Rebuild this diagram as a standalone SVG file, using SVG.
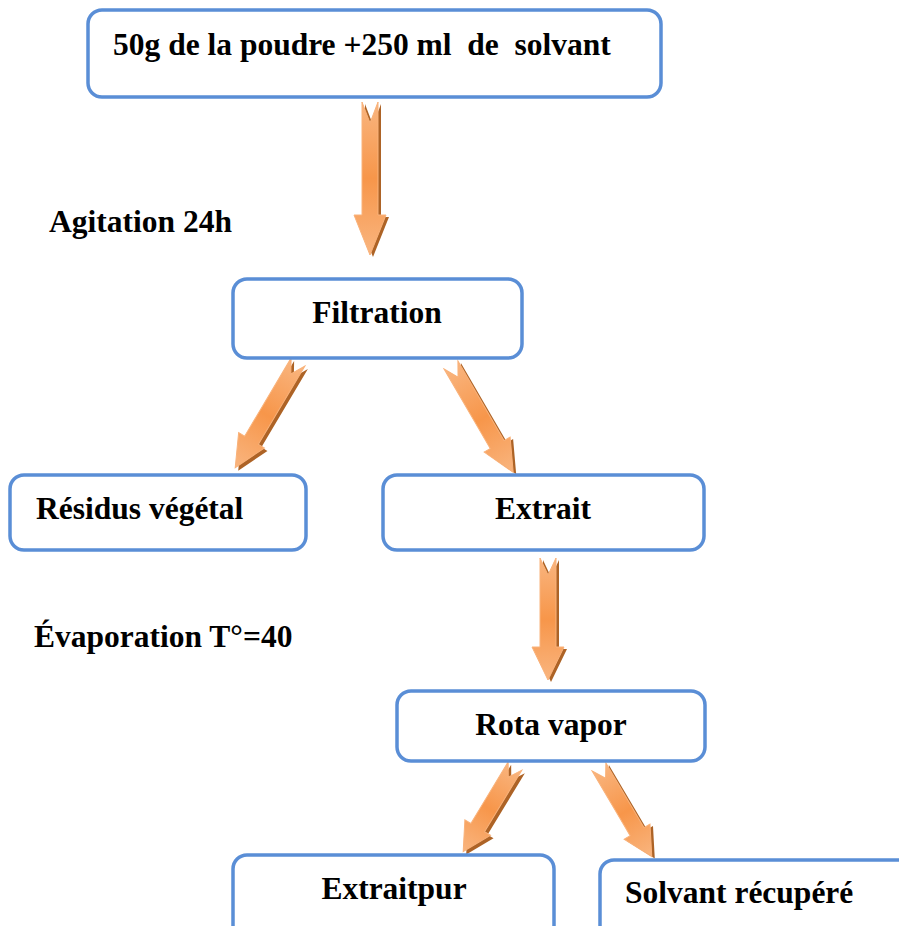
<svg xmlns="http://www.w3.org/2000/svg" width="899" height="926" viewBox="0 0 899 926">
<defs>
<style>
.box{fill:#ffffff;stroke:#5a8ed6;stroke-width:3.5}
.t{font-family:"Liberation Serif","Times New Roman",serif;font-weight:bold;font-size:31.5px;fill:#000;white-space:pre}
.arr{fill:url(#og);stroke:#f9b27a;stroke-width:1}
.sh{fill:#a4520e;opacity:0.9}
</style>
<linearGradient id="og" x1="0" y1="0" x2="0" y2="1">
<stop offset="0" stop-color="#f9b57f"/>
<stop offset="0.5" stop-color="#f7964a"/>
<stop offset="1" stop-color="#f9b57f"/>
</linearGradient>
</defs>
<rect width="899" height="926" fill="#ffffff"/>

<g id="connectors">
<g id="a1">
<path class="sh" transform="translate(373,104)" d="M-8,0 L0,21 L8,0 L8,113 L16,113 L0,153 L-16,113 L-8,113 Z"/>
<path class="arr" transform="translate(370,102)" d="M-8,0 L0,21 L8,0 L8,113 L16,113 L0,153 L-16,113 L-8,113 Z"/>
</g>
<g id="a2">
<path class="sh" transform="translate(301,365) rotate(30.7)" d="M-8,0 L0,14 L8,0 L8,91 L15,91 L0,123 L-15,91 L-8,91 Z"/>
<path class="arr" transform="translate(298,362) rotate(30.7)" d="M-8,0 L0,14 L8,0 L8,91 L15,91 L0,123 L-15,91 L-8,91 Z"/>
</g>
<g id="a3">
<path class="sh" transform="translate(454,367) rotate(-30.1)" d="M-8,0 L0,14 L8,0 L8,92 L15,92 L0,124 L-15,92 L-8,92 Z"/>
<path class="arr" transform="translate(451,365) rotate(-30.1)" d="M-8,0 L0,14 L8,0 L8,92 L15,92 L0,124 L-15,92 L-8,92 Z"/>
</g>
<g id="a4">
<path class="sh" transform="translate(551,560)" d="M-8,0 L0,17 L8,0 L8,89 L16,89 L0,122 L-16,89 L-8,89 Z"/>
<path class="arr" transform="translate(548,558)" d="M-8,0 L0,17 L8,0 L8,89 L16,89 L0,122 L-16,89 L-8,89 Z"/>
</g>
<g id="a5">
<path class="sh" transform="translate(518,769) rotate(31.2)" d="M-8,0 L0,13 L8,0 L8,72 L15,72 L0,100 L-15,72 L-8,72 Z"/>
<path class="arr" transform="translate(515,766) rotate(31.2)" d="M-8,0 L0,13 L8,0 L8,72 L15,72 L0,100 L-15,72 L-8,72 Z"/>
</g>
<g id="a6">
<path class="sh" transform="translate(602,769) rotate(-30.5)" d="M-8,0 L0,13 L8,0 L8,75 L15,75 L0,104 L-15,75 L-8,75 Z"/>
<path class="arr" transform="translate(599,767) rotate(-30.5)" d="M-8,0 L0,13 L8,0 L8,75 L15,75 L0,104 L-15,75 L-8,75 Z"/>
</g>
</g>

<g id="n-start">
<rect class="box" x="88" y="10" width="573" height="87" rx="14"/>
<text class="t" x="113" y="55" xml:space="preserve">50g de la poudre +250 ml  de  solvant</text>
</g>
<g id="l-agitation">
<text class="t" x="49" y="232">Agitation 24h</text>
</g>
<g id="n-filtration">
<rect class="box" x="233" y="279" width="289" height="79" rx="14"/>
<text class="t" x="377" y="323" text-anchor="middle">Filtration</text>
</g>
<g id="n-residus">
<rect class="box" x="10" y="475" width="296" height="75" rx="14"/>
<text class="t" x="36" y="519">Résidus végétal</text>
</g>
<g id="n-extrait">
<rect class="box" x="383" y="475" width="321" height="75" rx="14"/>
<text class="t" x="543" y="519" text-anchor="middle">Extrait</text>
</g>
<g id="l-evaporation">
<text class="t" x="34" y="647">Évaporation T°=40</text>
</g>
<g id="n-rota">
<rect class="box" x="397" y="691" width="308" height="70" rx="14"/>
<text class="t" x="551" y="735" text-anchor="middle">Rota vapor</text>
</g>
<g id="n-extraitpur">
<rect class="box" x="233" y="855" width="321" height="90" rx="14"/>
<text class="t" x="394" y="899" text-anchor="middle">Extraitpur</text>
</g>
<g id="n-solvant">
<rect class="box" x="600" y="860" width="320" height="90" rx="14"/>
<text class="t" x="625" y="903">Solvant récupéré</text>
</g>
</svg>
